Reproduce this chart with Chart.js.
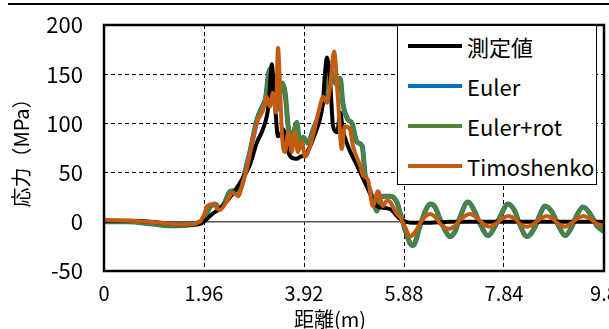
<!DOCTYPE html>
<html>
<head>
<meta charset="utf-8">
<script src="https://cdn.jsdelivr.net/npm/chart.js@4.4.1/dist/chart.umd.min.js"></script>
<style>
  body { margin: 0; background: #fff; }
  #wrap { position: relative; width: 609px; height: 329px; font-family: "Noto Sans CJK JP", sans-serif; color: #000; }
  #topline { position: absolute; left: 8px; top: 3px; width: 601px; height: 2px; background: #000; }
  #legend { position: absolute; left: 397px; top: 25px; width: 200px; height: 160px; box-sizing: border-box;
            border: 1px solid #000; background: #fff; }
  .row { position: absolute; left: 10px; height: 30px; display: flex; align-items: center; }
  .row i { display: block; width: 54px; height: 4px; margin-right: 5px; }
  .row span { font-size: 22px; line-height: 30px; }
  #xtitle { position: absolute; left: 280px; width: 100px; top: 307px; text-align: center; font-size: 20px; line-height: 24px; }
</style>
</head>
<body>
<div id="wrap">
  <canvas id="c" width="609" height="329"></canvas>
  <div id="topline"></div>
  <div id="legend"></div>
  <div id="xtitle">距離(m)</div>
</div>
<script>
// 軸の目盛
const xTicks = [0, 1.96, 3.92, 5.88, 7.84, 9.8];
const xTickLabels = ['0', '1.96', '3.92', '5.88', '7.84', '9.8'];

// 凡例
const seriesNames = ['測定値', 'Euler', 'Euler+rot', 'Timoshenko'];
const seriesColors = ['#000000', '#0070C0', '#548235', '#C55A11'];

// 測定値
const measX = [0, 0.51, 0.90, 1.29, 1.69, 1.88, 1.98, 2.08, 2.18, 2.27, 2.47, 2.67, 2.86, 3.00, 3.10, 3.19, 3.23, 3.29,
  3.31, 3.35, 3.41, 3.47, 3.51, 3.61, 3.68, 3.78, 3.84, 3.94, 4.04, 4.14, 4.23, 4.29, 4.33, 4.37, 4.43, 4.49, 4.57,
  4.63, 4.68, 4.78, 4.96, 5.15, 5.35, 5.51, 5.61, 5.80, 6.06, 6.39, 6.78, 7.37, 8.15, 8.94, 9.80];
const measY = [1, 1, 0, -2, -3, -2, 1, 6, 10, 13, 25, 40, 58, 81, 92, 107, 121, 160,
  150, 121, 87, 90, 94, 71, 65, 64, 66, 68, 77, 90, 104, 121, 150, 167, 145, 97, 91,
  111, 94, 77, 57, 36, 16, 14, 13, 3, -1, -1, 0, 0, 0, 0, 0];

// Euler / Euler+rot（ほぼ同じ）
const rotX = [0, 0.51, 0.90, 1.29, 1.69, 1.88, 1.98, 2.08, 2.18, 2.27, 2.37, 2.47, 2.67, 2.76, 2.86, 3.00, 3.10, 3.16,
  3.25, 3.31, 3.39, 3.49, 3.55, 3.61, 3.68, 3.78, 3.84, 3.90, 4.00, 4.10, 4.19, 4.29, 4.43, 4.49, 4.55, 4.63, 4.68,
  4.78, 4.86, 4.96, 5.06, 5.12, 5.19, 5.27, 5.35, 5.41, 5.51, 5.61, 5.74, 5.80, 5.90, 6.00, 6.06, 6.19, 6.29, 6.39,
  6.49, 6.59, 6.68, 6.78, 6.88, 6.98, 7.13, 7.27, 7.37, 7.53, 7.66, 7.76, 7.92, 8.06, 8.15, 8.29, 8.45, 8.55, 8.64,
  8.78, 8.90, 9.04, 9.17, 9.27, 9.39, 9.53, 9.66, 9.80];
const eulerY = [0, 0, -2, -4, -3, 0, 5, 15, 18, 14, 20, 31, 33, 50, 71, 104, 117, 124,
  155, 137, 114, 141, 131, 97, 84, 101, 77, 86, 80, 94, 105, 121, 155, 146, 140, 146, 121,
  104, 100, 81, 77, 47, 35, 23, 11, 25, 26, 26, 20, 10, -8, -22, -24, -5, 10, 18,
  15, 2, -8, -15, -10, 5, 20, 10, -2, -14, -5, 5, 18, 10, -3, -15, -5, 8, 16,
  10, -3, -14, -5, 7, 15, 8, -4, -10];
const rotY = [0, 0, -2, -4, -3, 0, 5, 15, 18, 14, 20, 31, 33, 50, 71, 104, 117, 124,
  155, 137, 114, 141, 131, 97, 84, 101, 77, 86, 80, 94, 105, 121, 155, 146, 140, 146, 121,
  104, 100, 81, 77, 47, 35, 23, 11, 25, 26, 26, 20, 10, -8, -22, -24, -5, 10, 18,
  15, 2, -8, -15, -10, 5, 20, 10, -2, -14, -5, 5, 18, 10, -3, -15, -5, 8, 16,
  10, -3, -14, -5, 7, 15, 8, -4, -10];

// Timoshenko
const timoX = [0, 0.51, 0.90, 1.29, 1.59, 1.88, 1.98, 2.02, 2.14, 2.21, 2.27, 2.41, 2.53, 2.63, 2.72, 2.80, 2.92, 3.00,
  3.12, 3.19, 3.25, 3.31, 3.37, 3.41, 3.45, 3.49, 3.55, 3.61, 3.68, 3.74, 3.80, 3.88, 3.94, 4.04, 4.14, 4.23, 4.29,
  4.37, 4.43, 4.51, 4.59, 4.66, 4.72, 4.82, 4.88, 5.02, 5.08, 5.17, 5.27, 5.37, 5.47, 5.55, 5.61, 5.74, 5.80, 5.90,
  6.00, 6.10, 6.19, 6.29, 6.39, 6.49, 6.59, 6.68, 6.78, 6.88, 6.98, 7.17, 7.33, 7.43, 7.57, 7.70, 7.80, 7.92, 8.06,
  8.15, 8.29, 8.45, 8.55, 8.68, 8.80, 8.90, 9.04, 9.17, 9.27, 9.39, 9.53, 9.66, 9.80];
const timoY = [2, 1, 0, -2, -3, 0, 10, 16, 18, 14, 12, 21, 30, 26, 40, 54, 84, 101,
  114, 127, 117, 131, 111, 177, 137, 87, 71, 91, 71, 91, 71, 81, 66, 77, 97, 117, 127,
  121, 137, 173, 121, 74, 97, 94, 77, 57, 47, 43, 16, 31, 16, 22, 20, 8, 5, -5,
  -15, -10, -2, 5, 8, 5, -2, -6, -7, -4, 2, 8, 3, -2, -5, -1, 3, 6, 3,
  -2, -5, -1, 3, 6, 3, -2, -5, -1, 3, 6, 3, -2, -4];

function toPoints(xs, ys) {
  return xs.map((x, i) => ({ x: x, y: ys[i] }));
}

// 凡例（グラフ内の白枠）
const legendEl = document.getElementById('legend');
seriesNames.forEach((name, i) => {
  const row = document.createElement('div');
  row.className = 'row';
  row.style.top = (5 + i * 40) + 'px';
  row.innerHTML = '<i style="background:' + seriesColors[i] + '"></i><span>' + name + '</span>';
  legendEl.appendChild(row);
});

// 枠線と0の線
const framePlugin = {
  id: 'frame',
  beforeDatasetsDraw(chart) {
    const { ctx, chartArea } = chart;
    const y0 = chart.scales.y.getPixelForValue(0);
    ctx.save();
    ctx.strokeStyle = '#595959';
    ctx.lineWidth = 1.5;
    ctx.beginPath();
    ctx.moveTo(chartArea.left, y0);
    ctx.lineTo(chartArea.right, y0);
    ctx.stroke();
    ctx.restore();
  },
  afterDatasetsDraw(chart) {
    const { ctx, chartArea } = chart;
    ctx.save();
    ctx.strokeStyle = '#000';
    ctx.lineWidth = 2.5;
    ctx.strokeRect(chartArea.left, chartArea.top, chartArea.right - chartArea.left, chartArea.bottom - chartArea.top);
    ctx.restore();
  }
};

const dataSets = [
  { xs: measX, ys: measY, order: 1, width: 4 },
  { xs: rotX, ys: eulerY, order: 3, width: 5 },
  { xs: rotX, ys: rotY, order: 2, width: 4 },
  { xs: timoX, ys: timoY, order: 0, width: 4 }
];

new Chart(document.getElementById('c'), {
  type: 'line',
  data: {
    datasets: dataSets.map((d, i) => ({
      label: seriesNames[i],
      data: toPoints(d.xs, d.ys),
      borderColor: seriesColors[i],
      backgroundColor: seriesColors[i],
      borderWidth: d.width,
      pointRadius: 0,
      cubicInterpolationMode: 'monotone',
      borderJoinStyle: 'round',
      borderCapStyle: 'round',
      order: d.order
    }))
  },
  options: {
    responsive: false,
    animation: false,
    layout: { padding: { left: 0, right: 5, top: 25, bottom: 0 } },
    plugins: { legend: { display: false }, tooltip: { enabled: false } },
    scales: {
      x: {
        type: 'linear',
        min: 0,
        max: 9.8,
        afterBuildTicks: (s) => { s.ticks = xTicks.map(v => ({ value: v })); },
        afterFit: (s) => { s.height = 58; s.paddingLeft = 0; s.paddingRight = 0; },
        grid: { color: '#000', lineWidth: 1, drawTicks: false },
        border: { display: false, dash: [4, 3] },
        ticks: {
          padding: 10,
          color: '#000',
          maxRotation: 0,
          font: { family: '"Noto Sans CJK JP", sans-serif', size: 20 },
          callback: (v, i) => xTickLabels[i]
        }
      },
      y: {
        min: -50,
        max: 200,
        afterFit: (s) => { s.width = 104; s.paddingTop = 0; s.paddingBottom = 0; },
        grid: { color: '#000', lineWidth: 1, drawTicks: false },
        border: { display: false, dash: [4, 3] },
        ticks: {
          stepSize: 50,
          padding: 21,
          color: '#000',
          font: { family: '"Noto Sans CJK JP", sans-serif', size: 22 }
        },
        title: {
          display: true,
          text: '応力（MPa）',
          color: '#000',
          padding: { top: 9, bottom: 0 },
          font: { family: '"Noto Sans CJK JP", sans-serif', size: 20 }
        }
      }
    }
  },
  plugins: [framePlugin]
});
</script>
</body>
</html>
